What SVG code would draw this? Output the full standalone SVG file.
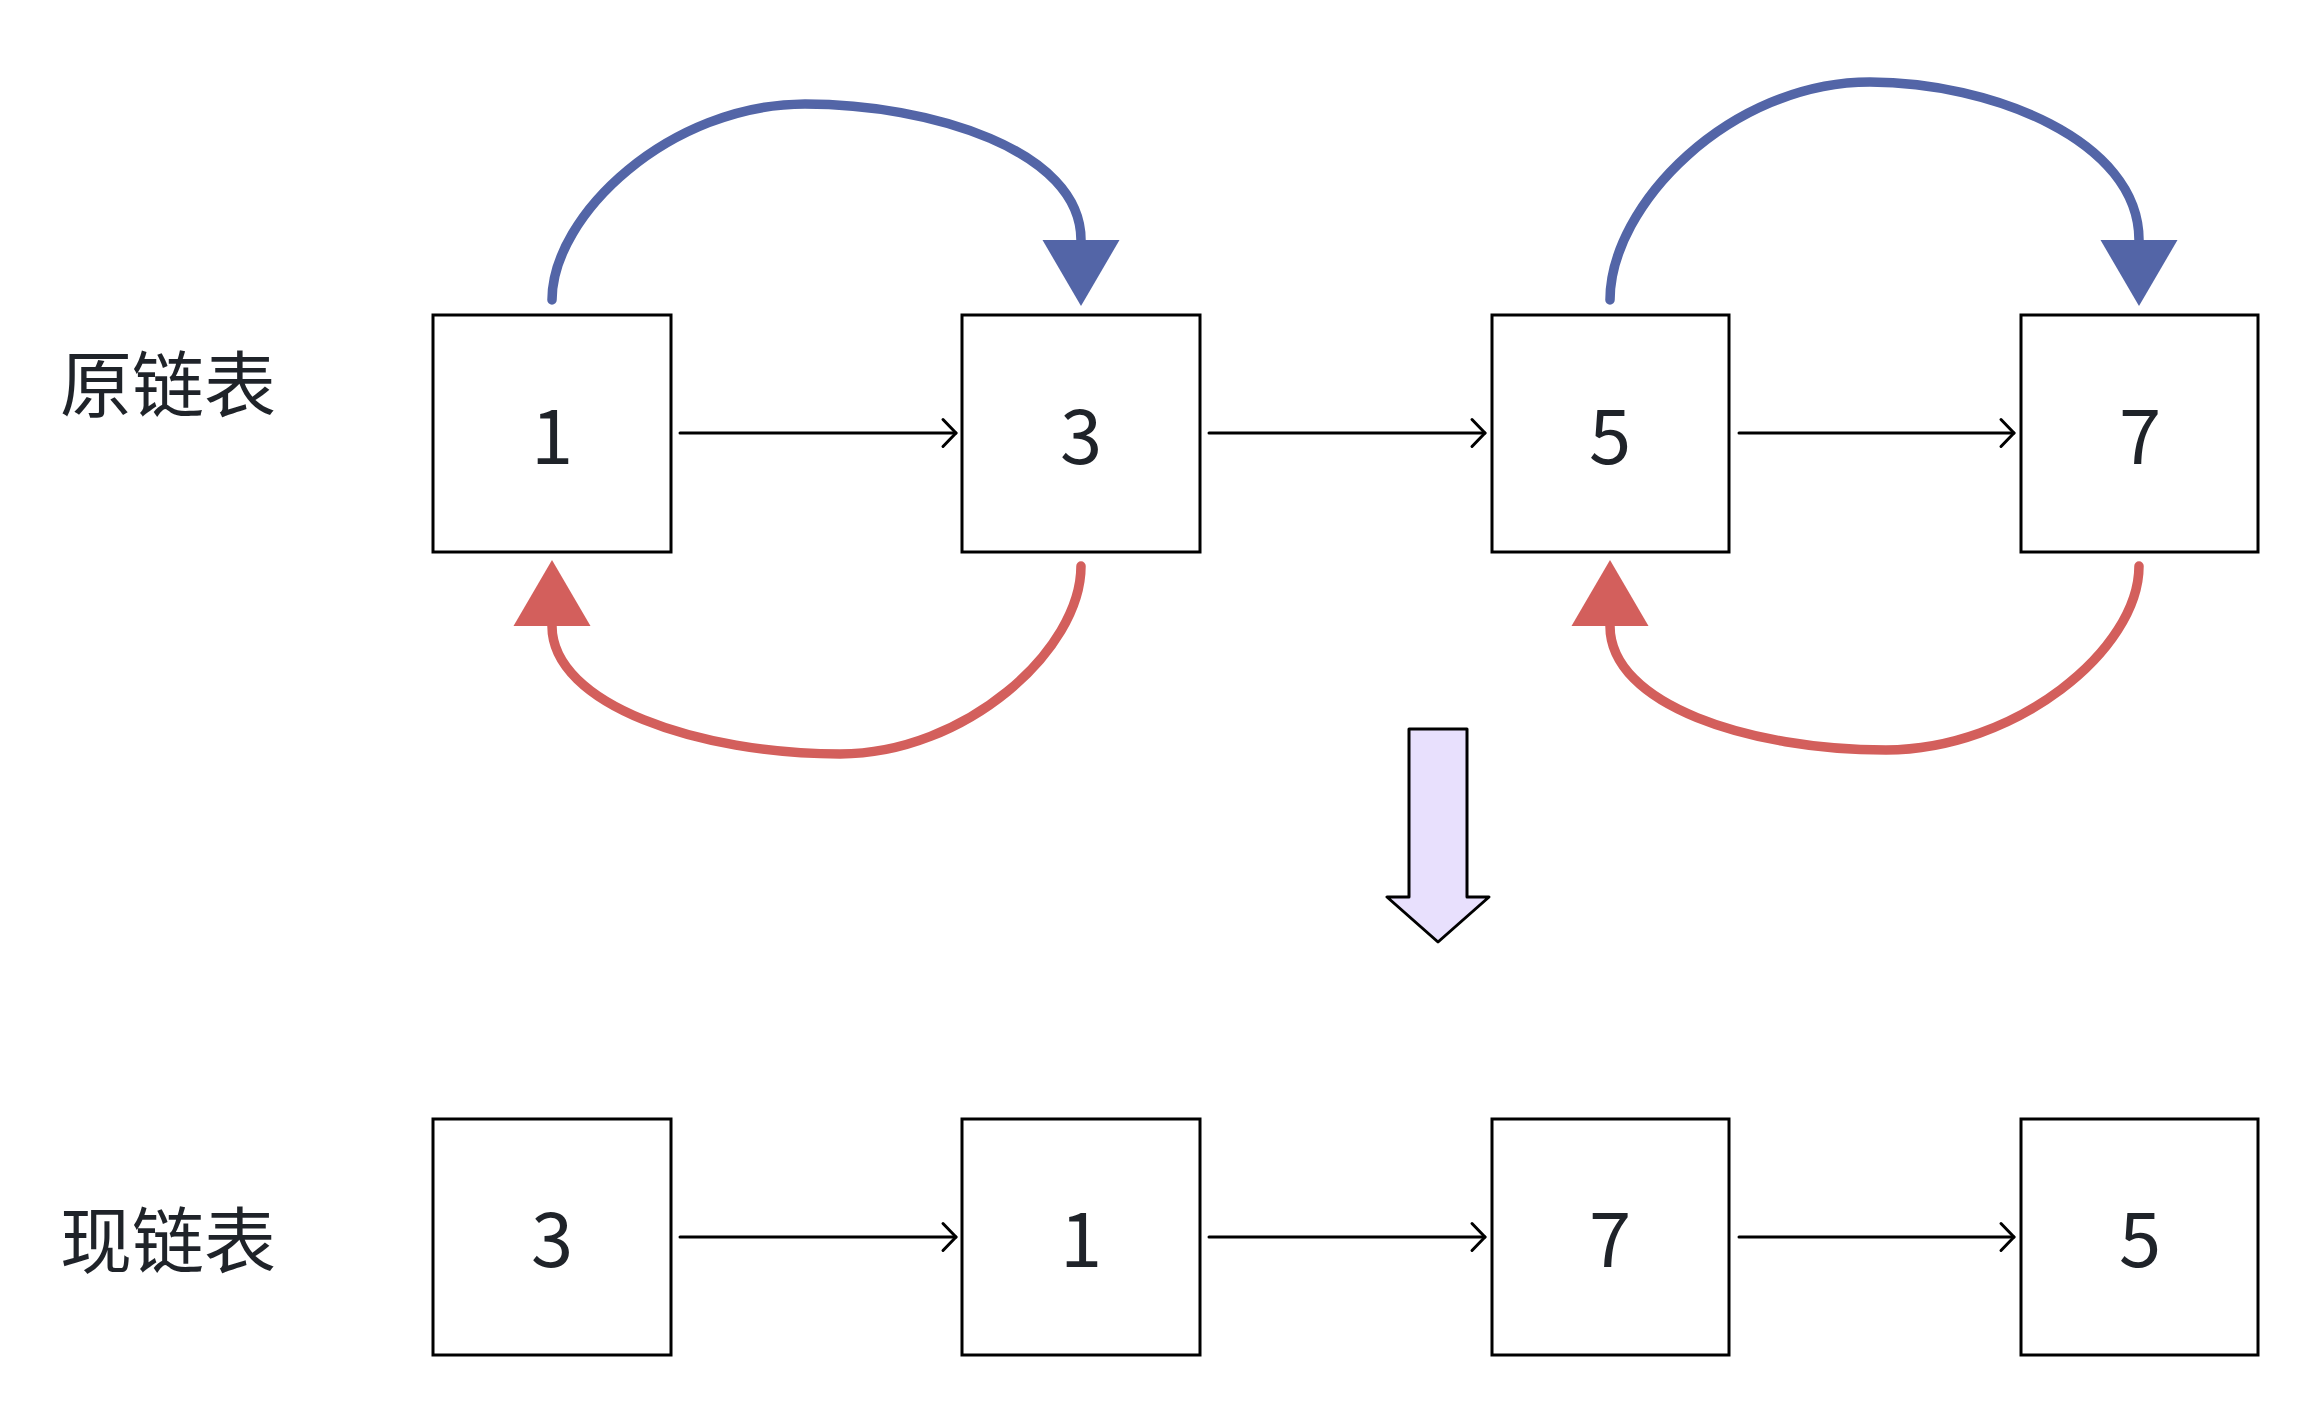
<svg xmlns="http://www.w3.org/2000/svg" width="2310" height="1406" viewBox="0 0 2310 1406">
<style>
.box{fill:#fff;stroke:#000;stroke-width:3}
.num{font-family:"Noto Sans CJK SC","Noto Sans",sans-serif;font-size:76px;fill:#1f2329;text-anchor:middle}
.lbl{font-family:"Noto Sans CJK SC",sans-serif;font-size:72px;fill:#1f2329}
.link{fill:none;stroke:#000;stroke-width:3;stroke-linecap:round;marker-end:url(#open)}
.blue{fill:none;stroke:#5365A7;stroke-width:9.5;stroke-linecap:round;marker-end:url(#tb)}
.red{fill:none;stroke:#D35F5C;stroke-width:9.5;stroke-linecap:round;marker-end:url(#tr)}
</style>
<defs>
<marker id="open" markerUnits="userSpaceOnUse" orient="auto" markerWidth="30" markerHeight="40" refX="0" refY="0" viewBox="-20 -20 30 40" overflow="visible">
<path d="M-13,-13.5 L0,0 L-13,13.5" fill="none" stroke="#000" stroke-width="3" stroke-linecap="round" stroke-linejoin="round"/>
</marker>
<marker id="tb" markerUnits="userSpaceOnUse" orient="auto" markerWidth="70" markerHeight="80" refX="0" refY="0" viewBox="0 -40 70 80" overflow="visible">
<path d="M0,-38.5 L66,0 L0,38.5 Z" fill="#5365A7"/>
</marker>
<marker id="tr" markerUnits="userSpaceOnUse" orient="auto" markerWidth="70" markerHeight="80" refX="0" refY="0" viewBox="0 -40 70 80" overflow="visible">
<path d="M0,-38.5 L66,0 L0,38.5 Z" fill="#D35F5C"/>
</marker>
</defs>
<rect width="2310" height="1406" fill="#fff"/>
<g id="label-orig"><text class="lbl" x="60" y="411">原链表</text></g>
<g id="label-now"><text class="lbl" x="60" y="1267">现链表</text></g>
<g id="n1"><rect class="box" x="433" y="315" width="238" height="237"/><text class="num" x="552" y="464">1</text></g>
<g id="n3"><rect class="box" x="962" y="315" width="238" height="237"/><text class="num" x="1081" y="464">3</text></g>
<g id="n5"><rect class="box" x="1492" y="315" width="237" height="237"/><text class="num" x="1610" y="464">5</text></g>
<g id="n7"><rect class="box" x="2021" y="315" width="237" height="237"/><text class="num" x="2140" y="464">7</text></g>
<g id="m3"><rect class="box" x="433" y="1119" width="238" height="236"/><text class="num" x="552" y="1267">3</text></g>
<g id="m1"><rect class="box" x="962" y="1119" width="238" height="236"/><text class="num" x="1081" y="1267">1</text></g>
<g id="m7"><rect class="box" x="1492" y="1119" width="237" height="236"/><text class="num" x="1610" y="1267">7</text></g>
<g id="m5"><rect class="box" x="2021" y="1119" width="237" height="236"/><text class="num" x="2140" y="1267">5</text></g>
<g id="down-arrow"><path d="M1409,729 L1467,729 L1467,897 L1489,897 L1438,942 L1387,897 L1409,897 Z" fill="#E8E0FD" stroke="#000" stroke-width="3" stroke-linejoin="round"/></g>
<g id="connectors">
<path class="link" d="M680,433 L956,433"/>
<path class="link" d="M1209,433 L1485,433"/>
<path class="link" d="M1739,433 L2014,433"/>
<path class="link" d="M680,1237 L956,1237"/>
<path class="link" d="M1209,1237 L1485,1237"/>
<path class="link" d="M1739,1237 L2014,1237"/>
<path class="blue" d="M552,300 C552,215 670,104 805,104 C930,104 1081,150 1081,240"/>
<path class="blue" d="M1610,300 C1610,205 1730,82 1870,82 C1990,82 2139,140 2139,240"/>
<path class="red" d="M1081,566 C1081,650 965,754 840,754 C700,754 552,705 552,626"/>
<path class="red" d="M2139,566 C2139,650 2015,750 1886,750 C1750,750 1610,705 1610,626"/>
</g>
</svg>
